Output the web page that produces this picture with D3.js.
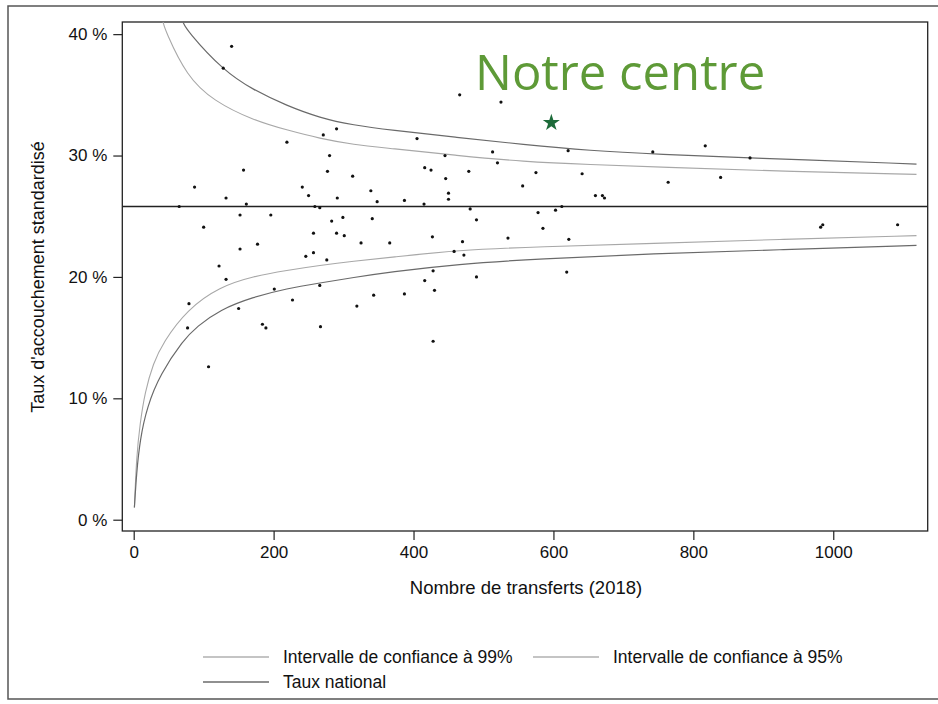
<!DOCTYPE html>
<html>
<head>
<meta charset="utf-8">
<script src="https://cdn.jsdelivr.net/npm/d3@7"></script>
<style>
  body { margin: 0; background: #fff; }
  svg text { font-family: "Liberation Sans", Arial, sans-serif; fill: #111; }
</style>
</head>
<body>
<div id="chart"></div>
<script>
// Centres: number of transfers (2018) and standardised delivery rate (%)
var transferts = [140, 128, 290, 271, 219, 280, 157, 277, 313, 87, 241, 339, 250, 132, 291, 348, 161,
    466, 525, 405, 621, 742, 513, 445, 520, 416, 425, 479, 575, 641, 446, 556, 450, 660, 670, 673,
    450, 387, 415, 65, 259, 266, 152, 196, 100, 283, 299, 341, 257, 290, 301, 177, 152, 325, 366,
    246, 257, 276, 122, 132, 201, 266, 227, 79, 319, 343, 150, 77, 184, 189, 267, 612, 481, 578,
    603, 490, 585, 427, 535, 470, 622, 458, 472, 428, 490, 619, 416, 430, 387, 428, 817, 881, 764,
    839, 982, 985, 1092, 107];
var taux = [39.0, 37.2, 32.2, 31.7, 31.1, 30.0, 28.8, 28.7, 28.3, 27.4, 27.4, 27.1, 26.7, 26.5, 26.5, 26.2, 26.0,
    35.0, 34.4, 31.4, 30.4, 30.3, 30.3, 30.0, 29.4, 29.0, 28.8, 28.7, 28.6, 28.5, 28.1, 27.5, 26.9, 26.7, 26.7, 26.5,
    26.4, 26.3, 26.0, 25.8, 25.8, 25.7, 25.1, 25.1, 24.1, 24.6, 24.9, 24.8, 23.6, 23.6, 23.4, 22.7, 22.3, 22.8, 22.8,
    21.7, 22.0, 21.4, 20.9, 19.8, 19.0, 19.3, 18.1, 17.8, 17.6, 18.5, 17.4, 15.8, 16.1, 15.8, 15.9, 25.8, 25.6, 25.3,
    25.5, 24.7, 24.0, 23.3, 23.2, 22.9, 23.1, 22.1, 21.8, 20.5, 20.0, 20.4, 19.7, 18.9, 18.6, 14.7, 30.8, 29.8, 27.8,
    28.2, 24.1, 24.3, 24.3, 12.6];

// Our centre
var centreTransferts = 597, centreTaux = 32.7;
var tauxNational = 25.8;

var ic99Haut = [[70.5, 41.0], [76, 40.3], [128, 37.0], [171, 35.4], [219, 34.1], [266, 33.1], [314, 32.5],
    [366, 32.1], [462, 31.5], [557, 30.9], [652, 30.4], [752, 30.1], [881, 29.8], [1119, 29.3]];
var ic95Haut = [[42, 41.0], [45, 40.3], [76, 36.5], [114, 34.5], [171, 32.9], [219, 32.1], [266, 31.4],
    [314, 30.9], [366, 30.6], [462, 30.0], [557, 29.5], [652, 29.25], [752, 29.05], [929, 28.7], [1119, 28.45]];
var ic99Bas = [[1, 1.0], [4, 3.8], [9, 6.6], [19, 9.3], [38, 12.0], [71, 14.8], [90, 15.9], [123, 17.3],
    [171, 18.35], [219, 19.05], [266, 19.5], [314, 19.95], [366, 20.4], [462, 21.05], [581, 21.5],
    [738, 21.9], [929, 22.25], [1119, 22.6]];
var ic95Bas = [[1, 1.0], [4, 5.2], [9, 7.9], [16, 10.5], [28, 12.9], [42, 14.6], [76, 17.3], [123, 19.2],
    [171, 20.05], [219, 20.55], [266, 20.95], [314, 21.3], [366, 21.6], [462, 22.2], [581, 22.5],
    [738, 22.75], [929, 23.1], [1119, 23.4]];

var xTicks = [0, 200, 400, 600, 800, 1000];
var yTicks = [0, 10, 20, 30, 40];

var width = 938, height = 704;
var plot = { left: 122.3, right: 927.7, top: 22, bottom: 531 };

var svg = d3.select("#chart").append("svg")
    .attr("width", width)
    .attr("height", height);

// outer border of the figure
svg.append("rect")
    .attr("x", 8).attr("y", 6)
    .attr("width", 945).attr("height", 693)
    .attr("fill", "none")
    .attr("stroke", "#555")
    .attr("stroke-width", 1.5);

var x = d3.scaleLinear().domain([-16.3, 1135]).range([plot.left, plot.right]);
var y = d3.scaleLinear().domain([-0.93, 41.0]).range([plot.bottom, plot.top]);

svg.append("clipPath").attr("id", "clip")
    .append("rect")
    .attr("x", plot.left).attr("y", plot.top)
    .attr("width", plot.right - plot.left).attr("height", plot.bottom - plot.top);

// axes
var xAxis = svg.append("g")
    .attr("transform", "translate(0," + plot.bottom + ")")
    .call(d3.axisBottom(x).tickValues(xTicks).tickSize(9).tickPadding(6).tickFormat(d3.format("d")));
var yAxis = svg.append("g")
    .attr("transform", "translate(" + plot.left + ",0)")
    .call(d3.axisLeft(y).tickValues(yTicks).tickSize(9).tickPadding(6).tickFormat(function (d) { return d + " %"; }));

[xAxis, yAxis].forEach(function (a) {
    a.select(".domain").remove();
    a.selectAll("line").attr("stroke", "#222").attr("stroke-width", 1.2);
    a.selectAll("text").attr("font-size", 17).attr("fill", "#111")
        .attr("font-family", "Liberation Sans, Arial, sans-serif");
});

// plot frame
svg.append("rect")
    .attr("x", plot.left).attr("y", plot.top)
    .attr("width", plot.right - plot.left).attr("height", plot.bottom - plot.top)
    .attr("fill", "none")
    .attr("stroke", "#222")
    .attr("stroke-width", 1.3);

var g = svg.append("g").attr("clip-path", "url(#clip)");

var line = d3.line()
    .x(function (d) { return x(d[0]); })
    .y(function (d) { return y(d[1]); })
    .curve(d3.curveBasis);

// funnel limits
[ic95Haut, ic95Bas].forEach(function (c) {
    g.append("path").datum(c).attr("d", line)
        .attr("fill", "none").attr("stroke", "#a8a8a8").attr("stroke-width", 1.1);
});
[ic99Haut, ic99Bas].forEach(function (c) {
    g.append("path").datum(c).attr("d", line)
        .attr("fill", "none").attr("stroke", "#6a6a6a").attr("stroke-width", 1.2);
});

// national rate
g.append("line")
    .attr("x1", plot.left).attr("x2", plot.right)
    .attr("y1", y(tauxNational)).attr("y2", y(tauxNational))
    .attr("stroke", "#222").attr("stroke-width", 1.3);

// centres
g.selectAll("circle.centre")
    .data(d3.range(transferts.length))
    .enter().append("circle")
    .attr("class", "centre")
    .attr("cx", function (i) { return x(transferts[i]); })
    .attr("cy", function (i) { return y(taux[i]); })
    .attr("r", 1.6)
    .attr("fill", "#111");

// our centre
svg.append("path")
    .attr("d", d3.symbol().type(d3.symbolStar).size(90))
    .attr("transform", "translate(" + x(centreTransferts) + "," + y(centreTaux) + ")")
    .attr("fill", "#1d6b3a");

svg.append("text")
    .attr("x", 475).attr("y", 90)
    .attr("font-size", 49)
    .style("font-family", "'Open Sans', sans-serif")
    .style("fill", "#5e9a37")
    .text("Notre centre");

// axis titles
svg.append("text")
    .attr("x", (plot.left + plot.right) / 2 + 1).attr("y", 594)
    .attr("text-anchor", "middle")
    .attr("font-size", 18.5)
    .text("Nombre de transferts (2018)");

svg.append("text")
    .attr("transform", "translate(44,277) rotate(-90)")
    .attr("text-anchor", "middle")
    .attr("font-size", 18)
    .text("Taux d'accouchement standardisé");

// legend
var legend = [
    { label: "Intervalle de confiance à 99%", color: "#8a8a8a", x: 203, y: 657 },
    { label: "Intervalle de confiance à 95%", color: "#8a8a8a", x: 533, y: 657 },
    { label: "Taux national", color: "#222", x: 203, y: 682 }
];
var lg = svg.selectAll("g.legend").data(legend).enter().append("g")
    .attr("class", "legend")
    .attr("transform", function (d) { return "translate(" + d.x + "," + d.y + ")"; });
lg.append("line")
    .attr("x1", 0).attr("x2", 66)
    .attr("stroke", function (d) { return d.color; })
    .attr("stroke-width", 1.2);
lg.append("text")
    .attr("x", 80).attr("y", 6)
    .attr("font-size", 17.5)
    .text(function (d) { return d.label; });
</script>
</body>
</html>
